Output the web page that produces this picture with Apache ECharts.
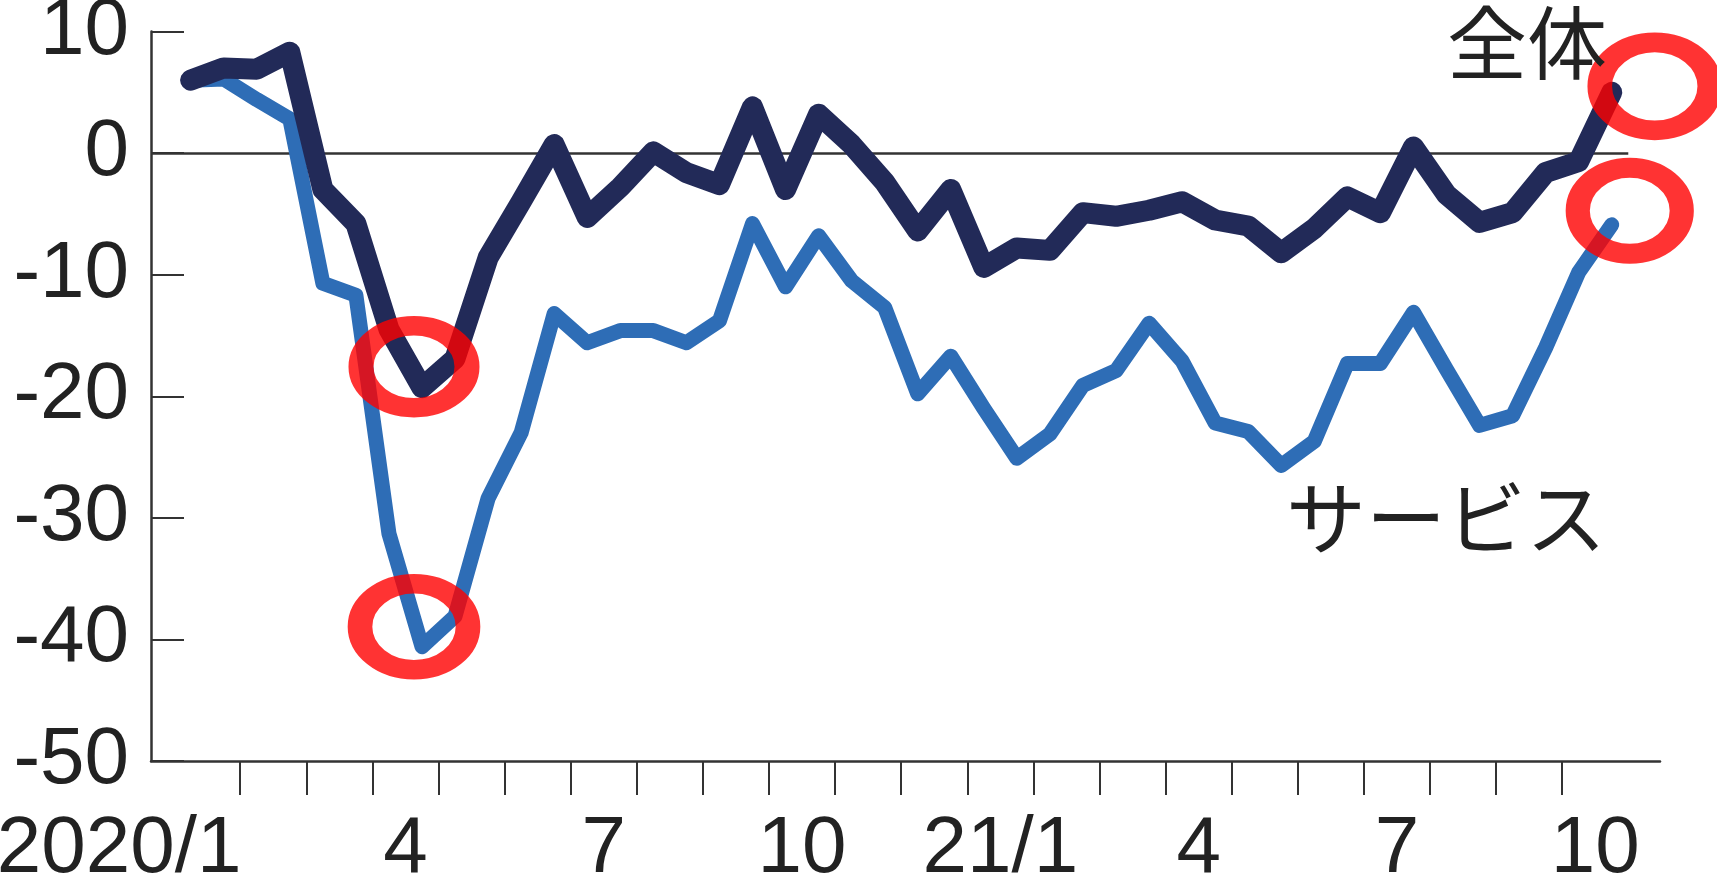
<!DOCTYPE html>
<html>
<head>
<meta charset="utf-8">
<script src="https://cdn.jsdelivr.net/npm/echarts@6/dist/echarts.min.js"></script>
<style>
  html, body { margin: 0; padding: 0; background: #ffffff; }
  #chart { width: 1717px; height: 894px; }
</style>
</head>
<body>
<div id="chart"></div>
<script>
// Half-monthly readings, first half of Jan 2020 through second half of Oct 2021
const overall = [
  6.0, 7.0, 6.9, 8.3, -3.0, -5.8, -14.5, -19.3, -16.9, -8.6,
  -4.0, 0.7, -5.3, -2.8, 0.1, -1.6, -2.6, 3.8, -3.0, 3.2,
  0.7, -2.4, -6.4, -3.0, -9.4, -7.8, -8.0, -4.9, -5.2, -4.7,
  -4.0, -5.5, -6.0, -8.2, -6.2, -3.6, -4.9, 0.5, -3.4, -5.7,
  -4.9, -1.6, -0.7, 5.0
];
const services = [
  6.0, 6.1, 4.4, 2.8, -10.7, -11.7, -31.3, -40.6, -38.1, -28.4,
  -23.0, -13.2, -15.6, -14.6, -14.6, -15.6, -13.8, -5.8, -11.0, -6.8,
  -10.5, -12.7, -19.8, -16.7, -21.0, -25.1, -23.1, -19.1, -17.9, -14.0,
  -17.1, -22.2, -22.9, -25.7, -23.7, -17.3, -17.3, -13.1, -17.8, -22.4,
  -21.6, -16.0, -9.8, -5.9
];

// Month axis: value = months since start of Jan 2020
const monthTicks = [1, 2, 3, 4, 5, 6, 7, 8, 9, 10, 11, 12, 13, 14, 15, 16, 17, 18, 19, 20, 21];
const labelMonths = [0.5, 3.5, 6.5, 9.5, 12.5, 15.5, 18.5, 21.5];
const monthLabels = ['2020/1', '4', '7', '10', '21/1', '4', '7', '10'];
const seriesNames = ['全体', 'サービス'];

// each half-month reading sits in the middle of its half of the month
const xOf = i => (i + 0.5) / 2;
const toPairs = arr => arr.map((v, i) => [xOf(i), v]);

const NUM_FONT = '"Liberation Sans", Arial, sans-serif';
const JP_FONT = '"Noto Sans CJK JP", "Noto Sans CJK SC", sans-serif';
const DARK = '#222a58';
const LIGHT = '#2e6db6';
const INK = '#222222';

const X_MIN = -0.35, X_MAX = 22.48;
const last = overall.length - 1;

const chart = echarts.init(document.getElementById('chart'), null, { renderer: 'canvas' });

chart.setOption({
  animation: false,
  backgroundColor: '#ffffff',
  grid: { left: 151, right: 57, top: 31.5, bottom: 133, containLabel: false, outerBoundsMode: 'none' },
  xAxis: {
    type: 'value',
    min: X_MIN,
    max: X_MAX,
    axisLine: { show: true, onZero: false, lineStyle: { color: '#333', width: 2.5 } },
    axisTick: {
      show: true, inside: false, length: 34,
      customValues: monthTicks,
      lineStyle: { color: '#333', width: 2 }
    },
    splitLine: { show: false },
    axisLabel: {
      customValues: labelMonths,
      margin: 49,
      color: INK,
      fontFamily: NUM_FONT,
      fontSize: 80,
      formatter: function (val) {
        const idx = labelMonths.findIndex(m => Math.abs(m - val) < 1e-6);
        if (idx < 0) return '';
        return idx === 0 ? '{first|' + monthLabels[idx] + '}' : monthLabels[idx];
      },
      rich: {
        first: { fontFamily: NUM_FONT, fontSize: 80, color: INK, padding: [0, 176, 0, 0] }
      }
    }
  },
  yAxis: {
    type: 'value',
    min: -50,
    max: 10,
    interval: 10,
    axisLine: { show: true, onZero: false, lineStyle: { color: '#333', width: 2.5 } },
    axisTick: { show: true, inside: true, length: 33, lineStyle: { color: '#333', width: 2 } },
    splitLine: { show: false },
    axisLabel: {
      margin: 22,
      color: INK,
      fontFamily: NUM_FONT,
      fontSize: 80
    }
  },
  series: [
    {
      name: seriesNames[1],
      type: 'line',
      z: 2,
      data: toPairs(services),
      showSymbol: false,
      symbol: 'none',
      lineStyle: { color: LIGHT, width: 15, cap: 'round', join: 'round' },
      markLine: {
        silent: true,
        z: 1,
        symbol: 'none',
        label: { show: false },
        lineStyle: { color: '#333', width: 2.5, type: 'solid' },
        data: [[{ coord: [X_MIN, 0] }, { coord: [22, 0] }]]
      }
    },
    {
      name: seriesNames[0],
      type: 'line',
      z: 3,
      data: toPairs(overall),
      showSymbol: false,
      symbol: 'none',
      lineStyle: { color: DARK, width: 21, cap: 'round', join: 'round' }
    },
    {
      // red rings highlighting the trough and the latest readings
      type: 'scatter',
      z: 5,
      silent: true,
      symbol: 'circle',
      itemStyle: { color: 'rgba(0,0,0,0)', borderColor: '#ff0000', borderWidth: 22 },
      emphasis: { disabled: true },
      data: [
        { value: [xOf(7), overall[7]], symbolSize: [106, 82], symbolOffset: [-8, -21] },
        { value: [xOf(7), services[7]], symbolSize: [108, 86], symbolOffset: [-8, -20] },
        { value: [xOf(last), overall[last]], symbolSize: [110, 88], symbolOffset: [43, -6] },
        { value: [xOf(last), services[last]], symbolSize: [104, 86], symbolOffset: [18, -14] }
      ]
    }
  ],
  graphic: [
    {
      type: 'text', x: 1527, y: 43, z: 10,
      style: { text: seriesNames[0], fontFamily: JP_FONT, fontSize: 80, fill: INK, align: 'center', verticalAlign: 'middle' }
    },
    {
      type: 'text', x: 1446, y: 518, z: 10,
      style: { text: seriesNames[1], fontFamily: JP_FONT, fontSize: 80, fill: INK, align: 'center', verticalAlign: 'middle' }
    }
  ]
});
</script>
</body>
</html>
